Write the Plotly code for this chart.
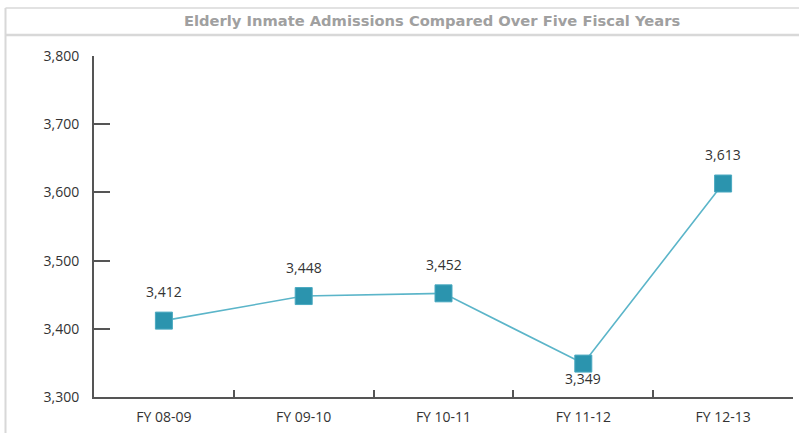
import plotly.graph_objects as go

categories = ["FY 08-09", "FY 09-10", "FY 10-11", "FY 11-12", "FY 12-13"]
admissions = [3412, 3448, 3452, 3349, 3613]
label_above = [True, True, True, False, True]
y_ticks = [3300, 3400, 3500, 3600, 3700, 3800]
title_text = "Elderly Inmate Admissions Compared Over Five Fiscal Years"

W, H = 799, 433
L, R, T, B = 94, 6, 56, 36
pw, ph = W - L - R, H - T - B

def px_x(p):
    return (p - L) / pw

def px_y(p):
    return (H - B - p) / ph

fig = go.Figure()
fig.add_trace(go.Scatter(
    x=categories, y=admissions, mode="lines+markers",
    line=dict(color="#5bb5c9", width=1.6),
    marker=dict(symbol="square", size=17, color="#2b94ae",
                line=dict(color="#4aa9c0", width=1)),
    hoverinfo="skip", showlegend=False,
))

annotations = []
for c, v, up in zip(categories, admissions, label_above):
    annotations.append(dict(
        x=c, y=v, xref="x", yref="y", text=f"{v:,}", showarrow=False,
        yshift=29 if up else -15,
        font=dict(family="Open Sans", size=14, color="#333333"),
    ))
annotations.append(dict(
    x=px_x(432), y=px_y(20), xref="paper", yref="paper", text=f"<b>{title_text}</b>",
    showarrow=False, xanchor="center", yanchor="middle",
    font=dict(family="DejaVu Sans", size=14.7, color="#a0a0a0"),
))

border = "#d8d8d8"
shapes = [
    dict(type="line", xref="paper", yref="paper", x0=px_x(5.5), x1=px_x(800), y0=px_y(8), y1=px_y(8),
         line=dict(color=border, width=1.5)),
    dict(type="line", xref="paper", yref="paper", x0=px_x(5.5), x1=px_x(800), y0=px_y(35), y1=px_y(35),
         line=dict(color=border, width=2.5)),
    dict(type="line", xref="paper", yref="paper", x0=px_x(5.5), x1=px_x(5.5), y0=px_y(8), y1=px_y(434),
         line=dict(color=border, width=2)),
]

fig.update_layout(
    width=W, height=H,
    margin=dict(l=L, r=R, t=T, b=B, pad=0),
    paper_bgcolor="white", plot_bgcolor="white",
    annotations=annotations, shapes=shapes,
    xaxis=dict(
        type="category", range=[-0.5, 4.5], showgrid=False, zeroline=False,
        showline=True, linecolor="#555555", linewidth=2,
        ticks="inside", tickson="boundaries", ticklen=7, tickcolor="#555555", tickwidth=1.5,
        tickfont=dict(family="Open Sans", size=14, color="#333333"),
        ticklabelstandoff=6,
    ),
    yaxis=dict(
        range=[3300, 3800], tickvals=y_ticks, ticktext=[f"{v:,}" for v in y_ticks],
        showgrid=False, zeroline=False,
        showline=True, linecolor="#555555", linewidth=2,
        ticks="inside", ticklen=16, tickcolor="#555555", tickwidth=1.5,
        tickfont=dict(family="Open Sans", size=14, color="#333333"),
        ticklabelstandoff=10,
    ),
)

fig.write_html("out.html", config={"displayModeBar": False},
               post_script="document.body.style.margin='0';")
